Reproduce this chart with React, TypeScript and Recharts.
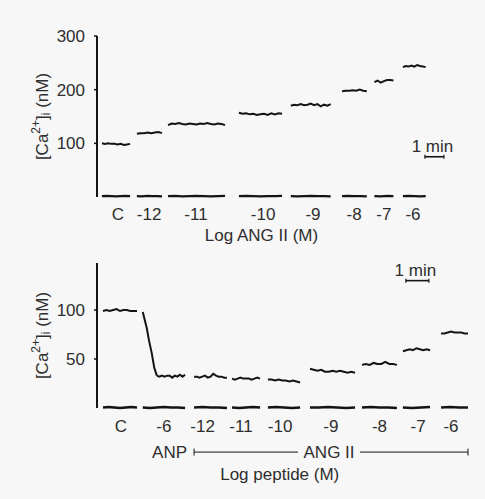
import { Line, LineChart, ReferenceLine, XAxis, YAxis } from "recharts";

const FONT = '"Liberation Sans", Arial, sans-serif';
const INK = "#141414";
const TEXT = "#2e2e2e";

// ---- top panel: Log ANG II (M) ----
const angLabels = ["C", "-12", "-11", "-10", "-9", "-8", "-7", "-6"];
const angTicks = [1.1, 2.74, 5.21, 8.74, 11.37, 13.53, 15.1, 16.63];
const angStarts = [0.26, 2.1, 3.74, 7.47, 10.2, 12.9, 14.6, 16.1];
const angEnds = [1.74, 3.42, 6.74, 9.74, 12.3, 14.2, 15.6, 17.3];
const angCa = [
  [100, 99, 100, 99, 99, 98, 99, 97, 98, 99],
  [118, 119, 119, 120, 119, 120, 121, 119],
  [134, 137, 136, 138, 136, 135, 137, 136, 135, 137, 136, 138, 136, 135, 137, 136, 134],
  [157, 155, 156, 154, 155, 153, 154, 155, 153, 156, 154, 156, 155],
  [170, 172, 171, 173, 171, 172, 174, 171, 173, 169, 172, 170, 173],
  [197, 198, 198, 199, 198, 200, 198, 197],
  [214, 217, 213, 216, 218, 218, 217],
  [242, 244, 243, 245, 243, 246, 244, 243, 242],
];
const angBase = [
  [1.5, 2, 1.5, 1, 1.5, 2, 1.5],
  [1.5, 1, 2, 1.5, 1.5, 1],
  [1.5, 2, 1, 1.5, 2, 1.5, 1, 1.5, 2],
  [1.5, 2, 1.5, 1, 1.5, 1.5, 2],
  [1.5, 1, 1.5, 2, 1.5, 1.5, 1],
  [1.5, 2, 1.5, 1.5, 1],
  [1.5, 1, 2, 1.5],
  [1.5, 2, 1.5, 1, 1.5],
];
const angScaleBar = { from: 17.26, to: 18.26, level: 75 };

// ---- bottom panel: Log peptide (M) ----
const pepLabels = ["C", "-6", "-12", "-11", "-10", "-9", "-8", "-7", "-6"];
const pepTicks = [1.04, 2.91, 4.59, 6.26, 7.96, 10.17, 12.28, 13.96, 15.39];
const pepStarts = [0.26, 2.6, 4.22, 5.87, 7.43, 9.26, 11.52, 13.3, 14.96];
const pepEnds = [1.74, 3.83, 5.65, 7.09, 8.83, 11.22, 13.04, 14.48, 16.13];
const pepBaseStarts = [0.26, 1.99, 4.22, 5.87, 7.43, 9.26, 11.52, 13.3, 14.96];
const pepCa = [
  [99, 100, 99, 100, 101, 99, 100, 100, 99, 99, 99],
  [33, 32, 33, 32, 33, 33, 31, 33, 32, 34, 32, 34],
  [32, 32, 31, 32, 33, 31, 32, 35, 33, 32, 32, 31, 31],
  [30, 29, 30, 31, 30, 30, 30, 29, 30, 31, 30],
  [29, 29, 28, 29, 28, 28, 27, 28, 27, 26],
  [40, 39, 38, 39, 37, 37, 38, 37, 38, 37, 36, 37, 36],
  [44, 45, 44, 46, 45, 45, 47, 45, 45, 44],
  [58, 59, 60, 59, 61, 60, 59, 60, 59],
  [76, 76, 77, 78, 77, 77, 77, 76, 76],
];
const anpDropT = [1.99, 2.16, 2.26, 2.38, 2.49, 2.6];
const anpDropCa = [98, 82, 69, 56, 41, 33];
const pepBase = [
  [0.5, 1, 0.5, 0, 0.5, 1, 0.5],
  [0.5, 0, 0.5, 1, 0.5, 0.5, 0],
  [0.5, 1, 0.5, 0.5, 0],
  [0.5, 0, 0.5, 1, 0.5],
  [0.5, 1, 0.5, 0, 0.5],
  [0.5, 0.5, 1, 0.5, 0, 0.5],
  [0.5, 1, 0.5, 0.5, 0],
  [0.5, 0, 0.5, 1],
  [0.5, 1, 0.5, 0.5],
];
const pepScaleBar = { from: 13.43, to: 14.43, level: 130 };
const bracket = { from: 4.22, to: 16.13, level: -45, left: "ANP", mid: "ANG II" };

type Pt = { t: number; v: number };

function spread(t0: number, t1: number, values: number[]): Pt[] {
  const n = values.length;
  return values.map((v, i) => ({ t: t0 + ((t1 - t0) * i) / (n - 1), v }));
}

const textStyle = { fill: TEXT, fontSize: 17, fontFamily: FONT };

function CaLabel({ viewBox }: any) {
  const cx = viewBox.x + 5;
  const cy = viewBox.y + viewBox.height / 2;
  return (
    <text
      x={cx}
      y={cy}
      transform={`rotate(-90 ${cx} ${cy})`}
      textAnchor="middle"
      dominantBaseline="central"
      {...textStyle}
    >
      [Ca
      <tspan dy={-6} fontSize={12}>
        2+
      </tspan>
      <tspan dy={6}>]</tspan>
      <tspan dy={4} fontSize={12}>
        i
      </tspan>
      <tspan dy={-4}> (nM)</tspan>
    </text>
  );
}

function ScaleBar(props: any) {
  const { x1, x2, y1 } = props;
  return (
    <g>
      <line x1={x1} x2={x2} y1={y1} y2={y1} stroke={INK} strokeWidth={1.6} />
      <line x1={x1} x2={x1} y1={y1 - 2} y2={y1 + 2} stroke={INK} strokeWidth={1.2} />
      <line x1={x2} x2={x2} y1={y1 - 2} y2={y1 + 2} stroke={INK} strokeWidth={1.2} />
      <text x={(x1 + x2) / 2 - 2} y={y1 - 4.5} textAnchor="middle" {...textStyle}>
        1 min
      </text>
    </g>
  );
}

function Bracket(props: any) {
  const { x1, x2, y1 } = props;
  const mid = (x1 + x2) / 2 - 2;
  return (
    <g>
      <line x1={x1} x2={mid - 31} y1={y1} y2={y1} stroke={INK} strokeWidth={1} />
      <line x1={mid + 31} x2={x2} y1={y1} y2={y1} stroke={INK} strokeWidth={1} />
      <line x1={x1} x2={x1} y1={y1 - 3.5} y2={y1 + 3.5} stroke={INK} strokeWidth={1} />
      <line x1={x2} x2={x2} y1={y1 - 3.5} y2={y1 + 3.5} stroke={INK} strokeWidth={1} />
      <text x={x1 - 7} y={y1} textAnchor="end" dominantBaseline="central" {...textStyle}>
        {bracket.left}
      </text>
      <text x={mid} y={y1} textAnchor="middle" dominantBaseline="central" {...textStyle}>
        {bracket.mid}
      </text>
    </g>
  );
}

function trace(key: string, data: Pt[], width: number) {
  return (
    <Line
      key={key}
      data={data}
      dataKey="v"
      type="linear"
      stroke={INK}
      strokeWidth={width}
      dot={false}
      activeDot={false}
      isAnimationActive={false}
    />
  );
}

const yAxisCommon = {
  type: "number" as const,
  width: 60,
  axisLine: { stroke: INK, strokeWidth: 2 },
  tickLine: { stroke: INK, strokeWidth: 1.5 },
  tickSize: 3,
  tickMargin: 9,
  tick: textStyle,
  label: <CaLabel />,
};

export default function App() {
  return (
    <div
      style={{
        position: "absolute",
        left: 0,
        top: 0,
        width: 485,
        height: 499,
        background: "#f7f7f7",
      }}
    >
      <div style={{ position: "absolute", left: 0, top: 0 }}>
        <LineChart width={485} height={250} margin={{ top: 36, right: 27, left: 37, bottom: 13 }}>
          <XAxis
            dataKey="t"
            type="number"
            domain={[0, 19]}
            ticks={angTicks}
            interval={0}
            tickFormatter={(v: number) => angLabels[angTicks.indexOf(v)]}
            axisLine={false}
            tickLine={false}
            tickMargin={5}
            height={40}
            tick={textStyle}
            label={({ viewBox }: any) => (
              <text x={viewBox.x + viewBox.width / 2 - 16} y={viewBox.y + 44} textAnchor="middle" {...textStyle}>
                Log ANG II (M)
              </text>
            )}
          />
          <YAxis {...yAxisCommon} domain={[0, 300]} ticks={[100, 200, 300]} />
          {angCa.map((vals, i) => trace(`ca${i}`, spread(angStarts[i], angEnds[i], vals), 2))}
          {angBase.map((vals, i) => trace(`base${i}`, spread(angStarts[i], angEnds[i], vals), 2.3))}
          <ReferenceLine
            segment={[
              { x: angScaleBar.from, y: angScaleBar.level },
              { x: angScaleBar.to, y: angScaleBar.level },
            ]}
            ifOverflow="visible"
            shape={(p: any) => <ScaleBar {...p} />}
          />
        </LineChart>
      </div>
      <div style={{ position: "absolute", left: 0, top: 250 }}>
        <LineChart width={485} height={249} margin={{ top: 13, right: 8.5, left: 37, bottom: 51 }}>
          <XAxis
            dataKey="t"
            type="number"
            domain={[0, 16.5]}
            ticks={pepTicks}
            interval={0}
            tickFormatter={(v: number) => pepLabels[pepTicks.indexOf(v)]}
            axisLine={false}
            tickLine={false}
            tickMargin={6}
            height={40}
            tick={textStyle}
            label={({ viewBox }: any) => (
              <text x={viewBox.x + viewBox.width / 2 - 7} y={viewBox.y + 72} textAnchor="middle" {...textStyle}>
                Log peptide (M)
              </text>
            )}
          />
          <YAxis {...yAxisCommon} domain={[0, 148]} ticks={[50, 100]} />
          {pepCa.map((vals, i) => trace(`ca${i}`, spread(pepStarts[i], pepEnds[i], vals), 2))}
          {trace(
            "anpDrop",
            anpDropT.map((t, i) => ({ t, v: anpDropCa[i] })),
            2
          )}
          {pepBase.map((vals, i) => trace(`base${i}`, spread(pepBaseStarts[i], pepEnds[i], vals), 2.3))}
          <ReferenceLine
            segment={[
              { x: pepScaleBar.from, y: pepScaleBar.level },
              { x: pepScaleBar.to, y: pepScaleBar.level },
            ]}
            ifOverflow="visible"
            shape={(p: any) => <ScaleBar {...p} />}
          />
          <ReferenceLine
            segment={[
              { x: bracket.from, y: bracket.level },
              { x: bracket.to, y: bracket.level },
            ]}
            ifOverflow="visible"
            shape={(p: any) => <Bracket {...p} />}
          />
        </LineChart>
      </div>
    </div>
  );
}
